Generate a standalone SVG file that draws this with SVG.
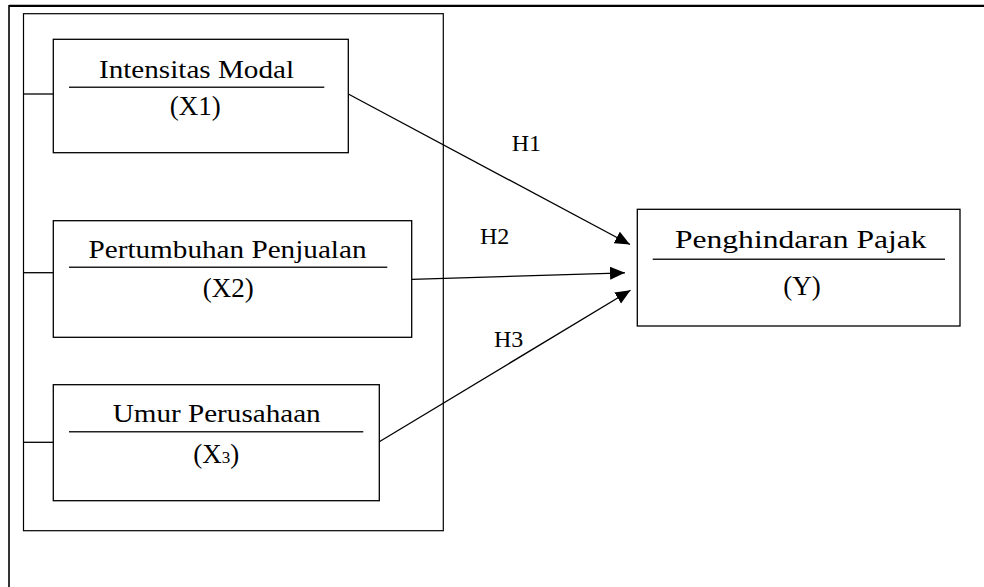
<svg xmlns="http://www.w3.org/2000/svg" width="984" height="587" viewBox="0 0 984 587">
<style>
  .box { fill: #fff; stroke: #000; stroke-width: 1.3; }
  .frame { fill: none; stroke: #000; stroke-width: 1.2; }
  .div { stroke: #222; stroke-width: 1.6; }
  .t { font-family: "Liberation Serif", "Times New Roman", serif; fill: #000; }
  .title { font-size: 25px; text-anchor: middle; }
  .code { font-size: 27px; text-anchor: middle; }
  .h { font-size: 24px; }
  .conn { stroke: #000; stroke-width: 1.3; fill: none; }
</style>
<defs>
  <marker id="arr" markerUnits="userSpaceOnUse" markerWidth="16" markerHeight="14" refX="15" refY="6.5" orient="auto">
    <path d="M0,0 L15,6.5 L0,13 z" fill="#000"/>
  </marker>
</defs>
<rect width="984" height="587" fill="#fff"/>
<g id="outer-frame">
  <line x1="9" y1="5.8" x2="984" y2="5.8" stroke="#000" stroke-width="2.2"/>
  <line x1="9" y1="5" x2="9" y2="587" stroke="#000" stroke-width="1.6"/>
</g>
<g id="independent-group">
  <rect class="frame" x="23.5" y="13.7" width="419.8" height="517"/>
</g>
<g id="connectors">
  <line class="conn" x1="23.5" y1="94" x2="53.3" y2="94"/>
  <line class="conn" x1="23.5" y1="272.7" x2="53.3" y2="272.7"/>
  <line class="conn" x1="23.5" y1="442.3" x2="53.3" y2="442.3"/>
  <line class="conn" x1="348.3" y1="94" x2="630" y2="244.5" marker-end="url(#arr)"/>
  <line class="conn" x1="411.7" y1="279.3" x2="625" y2="272.8" marker-end="url(#arr)"/>
  <line class="conn" x1="379.3" y1="441.7" x2="630.5" y2="290.3" marker-end="url(#arr)"/>
  <text class="t h" x="511.7" y="151">H1</text>
  <text class="t h" x="480" y="244">H2</text>
  <text class="t h" x="494" y="347.3">H3</text>
</g>
<g id="x1">
  <rect class="box" x="53.3" y="39.3" width="295" height="113.4"/>
  <line class="div" x1="69" y1="87.3" x2="324.3" y2="87.3"/>
  <text class="t title" x="196.5" y="78" textLength="195" lengthAdjust="spacingAndGlyphs">Intensitas Modal</text>
  <text class="t code" x="195.3" y="115">(X1)</text>
</g>
<g id="x2">
  <rect class="box" x="53.3" y="220.7" width="358.4" height="116.6"/>
  <line class="div" x1="69" y1="267.3" x2="387.3" y2="267.3"/>
  <text class="t title" x="227.5" y="257.8" textLength="278" lengthAdjust="spacingAndGlyphs">Pertumbuhan Penjualan</text>
  <text class="t code" x="228.3" y="297">(X2)</text>
</g>
<g id="x3">
  <rect class="box" x="53.3" y="384.7" width="326" height="116"/>
  <line class="div" x1="69" y1="431.7" x2="363.3" y2="431.7"/>
  <text class="t title" x="216.7" y="421.7" textLength="208" lengthAdjust="spacingAndGlyphs">Umur Perusahaan</text>
  <text class="t code" x="216.2" y="463">(X<tspan font-size="17">3</tspan>)</text>
</g>
<g id="y">
  <rect class="box" x="637.3" y="209.3" width="322.7" height="116.7"/>
  <line class="div" x1="652.7" y1="259.3" x2="945" y2="259.3"/>
  <text class="t title" x="800.8" y="248.3" font-size="27.5" textLength="251.7" lengthAdjust="spacingAndGlyphs">Penghindaran Pajak</text>
  <text class="t code" x="802" y="295">(Y)</text>
</g>
</svg>
